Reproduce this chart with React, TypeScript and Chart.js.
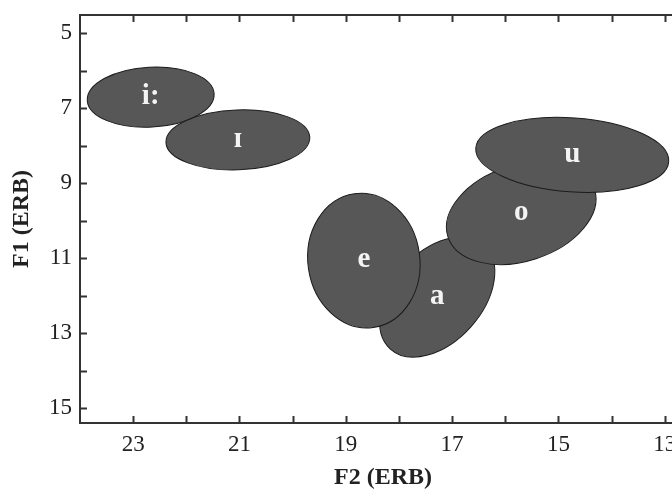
import React, { useEffect, useRef } from 'react';
import { Chart, registerables } from 'chart.js';

Chart.register(...registerables);

// Vowel ellipses (drawing order matters: later ones lie on top)
const VOWELS = ['i:', 'ɪ', 'a', 'e', 'o', 'u'];
const F2_CENTER = [22.67, 21.03, 17.28, 18.66, 15.7, 14.74];
const F1_CENTER = [6.7, 7.84, 12.03, 11.06, 9.79, 8.24];
const F2_SEMI = [1.195, 1.354, 1.317, 1.053, 1.449, 1.819];
const F1_SEMI = [0.8, 0.8, 1.2, 1.8, 1.28, 0.987];
const TILT_DEG = [-3, -2, -48, -8, -18, 4];

const X_TICKS = [23, 22, 21, 20, 19, 18, 17, 16, 15, 14, 13];
const Y_TICKS = [5, 6, 7, 8, 9, 10, 11, 12, 13, 14, 15];
const X_MIN = 12.6;
const X_MAX = 24;
const Y_MIN = 4.51;
const Y_MAX = 15.39;

const SERIF = "'Liberation Serif', 'Times New Roman', serif";

const ellipsePlugin = {
  id: 'vowelEllipses',
  afterDatasetsDraw(chart: any) {
    const meta = chart.getDatasetMeta(0);
    const xs = chart.scales.x;
    const ys = chart.scales.y;
    const sx = Math.abs(xs.getPixelForValue(1) - xs.getPixelForValue(0));
    const sy = Math.abs(ys.getPixelForValue(1) - ys.getPixelForValue(0));
    const ctx = chart.ctx;
    meta.data.forEach((pt: any, i: number) => {
      ctx.save();
      ctx.translate(pt.x, pt.y);
      ctx.rotate((TILT_DEG[i] * Math.PI) / 180);
      ctx.beginPath();
      ctx.ellipse(0, 0, F2_SEMI[i] * sx, F1_SEMI[i] * sy, 0, 0, Math.PI * 2);
      ctx.fillStyle = '#575757';
      ctx.fill();
      ctx.lineWidth = 1;
      ctx.strokeStyle = '#1c1c1c';
      ctx.stroke();
      ctx.restore();
      ctx.save();
      const fs = 29;
      ctx.font = `bold ${fs}px ${SERIF}`;
      ctx.fillStyle = '#f4f4f4';
      ctx.textAlign = 'center';
      ctx.textBaseline = 'alphabetic';
      ctx.fillText(VOWELS[i], pt.x, pt.y + fs * 0.23);
      ctx.restore();
    });
  },
};

const framePlugin = {
  id: 'frameTicks',
  afterDraw(chart: any) {
    const { ctx, chartArea: a } = chart;
    const xs = chart.scales.x;
    const ys = chart.scales.y;
    ctx.save();
    ctx.strokeStyle = '#333333';
    ctx.lineWidth = 2;
    ctx.strokeRect(a.left, a.top, a.right - a.left, a.bottom - a.top);
    ctx.beginPath();
    X_TICKS.forEach((v) => {
      const px = Math.round(xs.getPixelForValue(v)) + 0.5;
      ctx.moveTo(px, a.bottom);
      ctx.lineTo(px, a.bottom - 7);
      ctx.moveTo(px, a.top);
      ctx.lineTo(px, a.top + 7);
    });
    Y_TICKS.forEach((v) => {
      const py = Math.round(ys.getPixelForValue(v)) + 0.5;
      ctx.moveTo(a.left, py);
      ctx.lineTo(a.left + 7, py);
    });
    ctx.lineWidth = 2;
    ctx.stroke();
    ctx.restore();
  },
};

export default function App() {
  const ref = useRef<HTMLCanvasElement | null>(null);
  useEffect(() => {
    if (!ref.current) return;
    const chart = new Chart(ref.current, {
      type: 'scatter',
      data: {
        datasets: [
          {
            label: 'vowels',
            data: F2_CENTER.map((x, i) => ({ x, y: F1_CENTER[i] })),
            pointRadius: 0,
            pointHoverRadius: 0,
          },
        ],
      },
      options: {
        responsive: false,
        animation: false,
        devicePixelRatio: 1,
        layout: { padding: { top: 15, right: 14, left: 0, bottom: 0 } },
        plugins: {
          legend: { display: false },
          tooltip: { enabled: false },
        },
        events: [],
        scales: {
          x: {
            type: 'linear',
            reverse: true,
            min: X_MIN,
            max: X_MAX,
            afterBuildTicks: (s: any) => {
              s.ticks = X_TICKS.map((v) => ({ value: v }));
            },
            afterFit: (s: any) => {
              s.height = 67;
              s.paddingLeft = 0;
              s.paddingRight = 0;
              s.paddingTop = 0;
              s.paddingBottom = 0;
            },
            grid: { display: false, drawTicks: false },
            border: { display: false },
            ticks: {
              autoSkip: false,
              maxRotation: 0,
              padding: 8,
              color: '#222',
              font: { family: SERIF, size: 23 },
              callback: (v: any) => (Math.abs(v % 2) === 1 ? String(v) : ''),
            },
            title: {
              display: true,
              text: 'F2 (ERB)',
              color: '#222',
              font: { family: SERIF, size: 24, weight: 'bold', lineHeight: 1 },
              padding: { top: 0, bottom: 0 },
            },
          },
          y: {
            type: 'linear',
            reverse: true,
            min: Y_MIN,
            max: Y_MAX,
            afterBuildTicks: (s: any) => {
              s.ticks = Y_TICKS.map((v) => ({ value: v }));
            },
            afterFit: (s: any) => {
              s.width = 80;
              s.paddingLeft = 0;
              s.paddingRight = 0;
              s.paddingTop = 0;
              s.paddingBottom = 0;
            },
            grid: { display: false, drawTicks: false },
            border: { display: false },
            ticks: {
              autoSkip: false,
              padding: 8,
              color: '#222',
              font: { family: SERIF, size: 23 },
              callback: (v: any) => (Math.abs(v % 2) === 1 ? String(v) : ''),
            },
            title: {
              display: true,
              text: 'F1 (ERB)',
              color: '#222',
              font: { family: SERIF, size: 24, weight: 'bold', lineHeight: 1 },
              padding: { top: 10, bottom: 0 },
            },
          },
        },
      },
      plugins: [ellipsePlugin, framePlugin],
    });
    return () => chart.destroy();
  }, []);

  return (
    <div
      style={{
        position: 'fixed',
        left: 0,
        top: 0,
        width: 672,
        height: 490,
        overflow: 'hidden',
        background: '#fff',
      }}
    >
      <canvas ref={ref} width={700} height={490} style={{ width: 700, height: 490, display: 'block' }} />
    </div>
  );
}
